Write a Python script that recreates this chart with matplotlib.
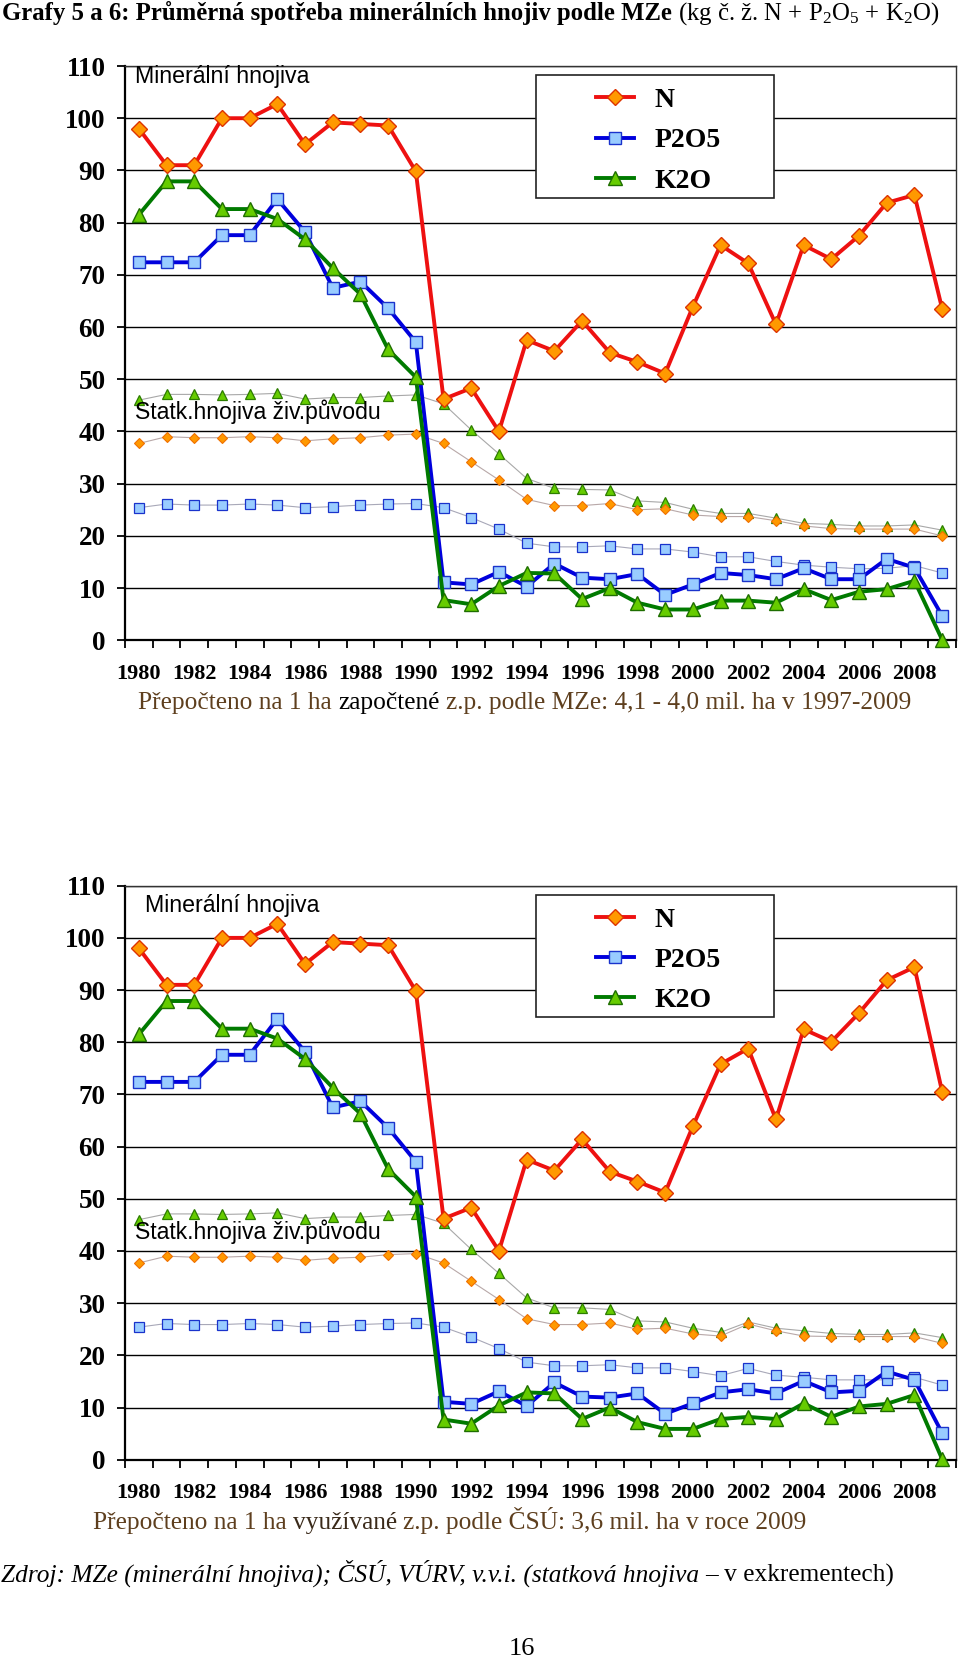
import matplotlib
matplotlib.use("Agg")
import matplotlib.pyplot as plt
from matplotlib.patches import Rectangle
import numpy as np

plt.rcParams['font.family'] = ['Liberation Serif', 'DejaVu Serif']
plt.rcParams['mathtext.fontset'] = 'custom'
plt.rcParams['mathtext.rm'] = 'Liberation Serif'
plt.rcParams['mathtext.it'] = 'Liberation Serif:italic'
plt.rcParams['mathtext.bf'] = 'Liberation Serif:bold'

W, H = 960, 1662

years = list(range(1980, 2010))
year_labels = [str(y) if y % 2 == 0 else "" for y in years]
yticks = list(range(0, 111, 10))

# graf 5 - prepocet na zapoctenou z.p. (MZe)
n_min_a = [98.0, 91.0, 91.0, 100.0, 100.0, 102.7, 95.0, 99.2, 98.9, 98.6, 89.8, 46.2, 48.3, 40.0, 57.5,
           55.4, 61.2, 55.1, 53.3, 51.1, 63.9, 75.7, 72.2, 60.5, 75.7, 73.0, 77.5, 83.8, 85.3, 63.5]
p_min_a = [72.4, 72.4, 72.4, 77.6, 77.6, 84.5, 78.2, 67.5, 68.7, 63.6, 57.1, 11.1, 10.7, 13.1, 10.3,
           14.7, 12.0, 11.7, 12.7, 8.7, 10.7, 12.9, 12.5, 11.7, 13.8, 11.7, 11.7, 15.6, 13.9, 4.7]
k_min_a = [81.5, 87.9, 87.9, 82.6, 82.6, 80.7, 76.8, 71.3, 66.3, 55.7, 50.4, 7.7, 6.9, 10.4, 12.9,
           12.8, 7.9, 10.0, 7.2, 5.9, 5.9, 7.6, 7.6, 7.2, 9.8, 7.7, 9.3, 9.8, 11.4, 0.1]
n_man_a = [37.7, 39.0, 38.8, 38.8, 39.0, 38.8, 38.2, 38.6, 38.8, 39.3, 39.5, 37.7, 34.2, 30.7, 27.0,
           25.8, 25.8, 26.2, 25.0, 25.2, 24.0, 23.7, 23.7, 22.9, 21.9, 21.4, 21.3, 21.3, 21.3, 20.0]
p_man_a = [25.4, 26.1, 25.9, 25.9, 26.1, 25.9, 25.4, 25.6, 25.9, 26.1, 26.2, 25.4, 23.5, 21.3, 18.6,
           17.9, 17.9, 18.1, 17.5, 17.5, 16.9, 16.0, 16.0, 15.1, 14.4, 14.0, 13.7, 13.8, 14.3, 12.9]
k_man_a = [46.0, 47.1, 47.1, 47.0, 47.1, 47.3, 46.2, 46.5, 46.5, 46.8, 47.0, 45.3, 40.3, 35.7, 31.0,
           29.1, 28.9, 28.8, 26.7, 26.4, 25.1, 24.3, 24.3, 23.4, 22.4, 22.2, 21.9, 21.9, 22.1, 21.1]

# graf 6 - prepocet na vyuzivanou z.p. (CSU)
n_min_b = [98.0, 91.0, 91.0, 100.0, 100.0, 102.7, 95.0, 99.2, 98.9, 98.6, 89.8, 46.2, 48.3, 40.0, 57.5,
           55.4, 61.4, 55.2, 53.3, 51.2, 63.9, 75.8, 78.8, 65.2, 82.5, 80.1, 85.6, 91.9, 94.4, 70.5]
p_min_b = [72.4, 72.4, 72.4, 77.6, 77.6, 84.5, 78.2, 67.5, 68.7, 63.6, 57.1, 11.1, 10.7, 13.1, 10.3,
           14.8, 12.1, 11.9, 12.7, 8.8, 10.8, 12.9, 13.5, 12.7, 15.1, 12.9, 13.2, 16.9, 15.3, 5.1]
k_min_b = [81.5, 87.9, 87.9, 82.6, 82.6, 80.7, 76.8, 71.3, 66.3, 55.7, 50.4, 7.7, 6.9, 10.4, 12.9,
           12.7, 7.8, 10.0, 7.2, 5.9, 5.9, 7.8, 8.2, 7.8, 10.8, 8.2, 10.2, 10.7, 12.4, 0.1]
n_man_b = [37.7, 39.0, 38.8, 38.8, 39.0, 38.8, 38.2, 38.6, 38.8, 39.3, 39.5, 37.7, 34.2, 30.7, 27.0,
           25.9, 25.9, 26.2, 25.0, 25.2, 24.1, 23.7, 26.0, 24.7, 23.7, 23.6, 23.6, 23.6, 23.6, 22.3]
p_man_b = [25.4, 26.1, 25.9, 25.9, 26.1, 25.9, 25.4, 25.6, 25.9, 26.1, 26.2, 25.4, 23.5, 21.3, 18.7,
           18.0, 18.0, 18.2, 17.6, 17.6, 16.9, 16.1, 17.5, 16.2, 15.8, 15.3, 15.3, 15.3, 15.8, 14.3]
k_man_b = [46.0, 47.1, 47.1, 47.0, 47.1, 47.3, 46.2, 46.5, 46.5, 46.8, 47.0, 45.3, 40.3, 35.7, 31.0,
           29.1, 29.1, 28.8, 26.6, 26.4, 25.2, 24.4, 26.4, 25.2, 24.7, 24.2, 24.0, 24.0, 24.3, 23.4]

brown = '#5e3f1e'


def chart(ax, n_min, p_min, k_min, n_man, p_man, k_man, lab_x):
    x = np.arange(len(years))
    # statkova hnojiva - tenke sede cary
    ax.plot(x, k_man, color='#a8a8a8', lw=0.8, marker='^', ms=7.5, mfc='#66cc00', mec='#2d7d00', mew=0.9, zorder=3)
    ax.plot(x, n_man, color='#b8a8a8', lw=0.8, marker='D', ms=5.5, mfc='#ff9900', mec='#f07000', mew=0.8, zorder=3)
    ax.plot(x, p_man, color='#a8a8b8', lw=0.8, marker='s', ms=6.5, mfc='#99ccff', mec='#1a33cc', mew=0.9, zorder=3)
    # mineralni hnojiva
    l1, = ax.plot(x, n_min, color='#ee1111', lw=2.8, marker='D', ms=8, mfc='#ff9900', mec='#dd3300', mew=1,
                  zorder=5, clip_on=False)
    l2, = ax.plot(x, p_min, color='#0000dd', lw=2.8, marker='s', ms=8.5, mfc='#99ccff', mec='#1a33cc', mew=1,
                  zorder=5, clip_on=False)
    l3, = ax.plot(x, k_min, color='#007a00', lw=2.8, marker='^', ms=9.5, mfc='#66cc00', mec='#1e6e00', mew=1,
                  zorder=6, clip_on=False)

    ax.set_xlim(-0.5, len(years) - 0.5)
    ax.set_ylim(0, 110)
    ax.set_yticks(yticks)
    ax.set_yticklabels([str(v) for v in yticks], fontsize=19.5, fontweight='bold')
    ax.set_xticks(x)
    ax.set_xticklabels(year_labels, fontsize=16, fontweight='bold')
    ax.set_xticks(np.arange(-0.5, len(years), 1), minor=True)
    ax.tick_params(axis='x', which='major', length=0, pad=17)
    ax.tick_params(axis='x', which='minor', length=6, width=1.3, direction='out')
    ax.tick_params(axis='y', length=6, width=1.3, pad=8)
    for v in yticks[1:]:
        ax.axhline(v, color='black', lw=1.0, zorder=1)
    for s in ['left', 'bottom']:
        ax.spines[s].set_linewidth(1.6)
    for s in ['top', 'right']:
        ax.spines[s].set_linewidth(1.0)
        ax.spines[s].set_color('#333333')

    ax.text(lab_x, 0.981 if lab_x < 0.02 else 0.966, "Minerální hnojiva", transform=ax.transAxes,
            family='Liberation Sans', fontsize=16.7, va='center', ha='left', zorder=10)
    ax.text(0.012, 0.398, "Statk.hnojiva živ.původu", transform=ax.transAxes,
            family='Liberation Sans', fontsize=16.6, va='center', ha='left', zorder=10)

    ax.add_patch(Rectangle((0.494, 0.771), 0.287, 0.213, transform=ax.transAxes, fill=True,
                           facecolor='white', edgecolor='#222222', lw=1.2, zorder=8))
    leg = ax.legend([l1, l2, l3], ["N", "P2O5", "K2O"], loc='center left', bbox_to_anchor=(0.567, 0.870),
                    frameon=False, borderpad=0, borderaxespad=0, handlelength=1.35, handletextpad=0.75,
                    labelspacing=0.53, prop={'family': 'Liberation Serif', 'weight': 'bold', 'size': 20})
    leg.set_zorder(9)


fig = plt.figure(figsize=(W / 100, H / 100), dpi=100)
ax1 = fig.add_axes([125 / W, 1 - 640.3 / H, 831 / W, 574.3 / H])
ax2 = fig.add_axes([125 / W, 1 - 1459.7 / H, 831 / W, 574 / H])
chart(ax1, n_min_a, p_min_a, k_min_a, n_man_a, p_man_a, k_man_a, 0.012)
chart(ax2, n_min_b, p_min_b, k_min_b, n_man_b, p_man_b, k_man_b, 0.024)

renderer = fig.canvas.get_renderer()


def runs(x_px, y_px, parts):
    # text poskladany z kousku ruzneho stylu za sebou, na spolecne zakladni care
    for s, kw in parts:
        if s == " ":
            x_px += kw.get('fontsize', 16) * 0.25 * 100 / 72
            continue
        t = fig.text(x_px / W, 1 - y_px / H, s, va='baseline', ha='left', **kw)
        x_px += t.get_window_extent(renderer=renderer).width


fs = 18.3
ft = 17.8
runs(2, 20, [("Grafy 5 a 6: Průměrná spotřeba minerálních hnojiv podle MZe", {'fontsize': ft, 'fontweight': 'bold'}),
             (" ", {'fontsize': ft}),
             (r"(kg č. ž. N + P$_2$O$_5$ + K$_2$O)", {'fontsize': ft})])

sp = (" ", {'fontsize': fs})
cap = {'fontsize': fs, 'color': brown}
runs(138, 709, [("Přepočteno na 1 ha", cap), sp, ("započtené", {'fontsize': fs, 'color': 'black'}), sp,
                ("z.p. podle MZe: 4,1 - 4,0 mil. ha v 1997-2009", cap)])
runs(93, 1529, [("Přepočteno na 1 ha", cap), sp, ("využívané", {'fontsize': fs, 'color': '#3a2a1a'}), sp,
                ("z.p. podle ČSÚ: 3,6 mil. ha v roce 2009", cap)])
runs(1, 1582, [("Zdroj: MZe (minerální hnojiva); ČSÚ, VÚRV, v.v.i. (statková hnojiva", {'fontsize': fs, 'style': 'italic'}),
               sp, ("– v exkrementech)", {'fontsize': fs})])
fig.text(522 / W, 1 - 1649 / H, "16", fontsize=19, ha='center', va='center')

fig.savefig("out.png", dpi=100)
